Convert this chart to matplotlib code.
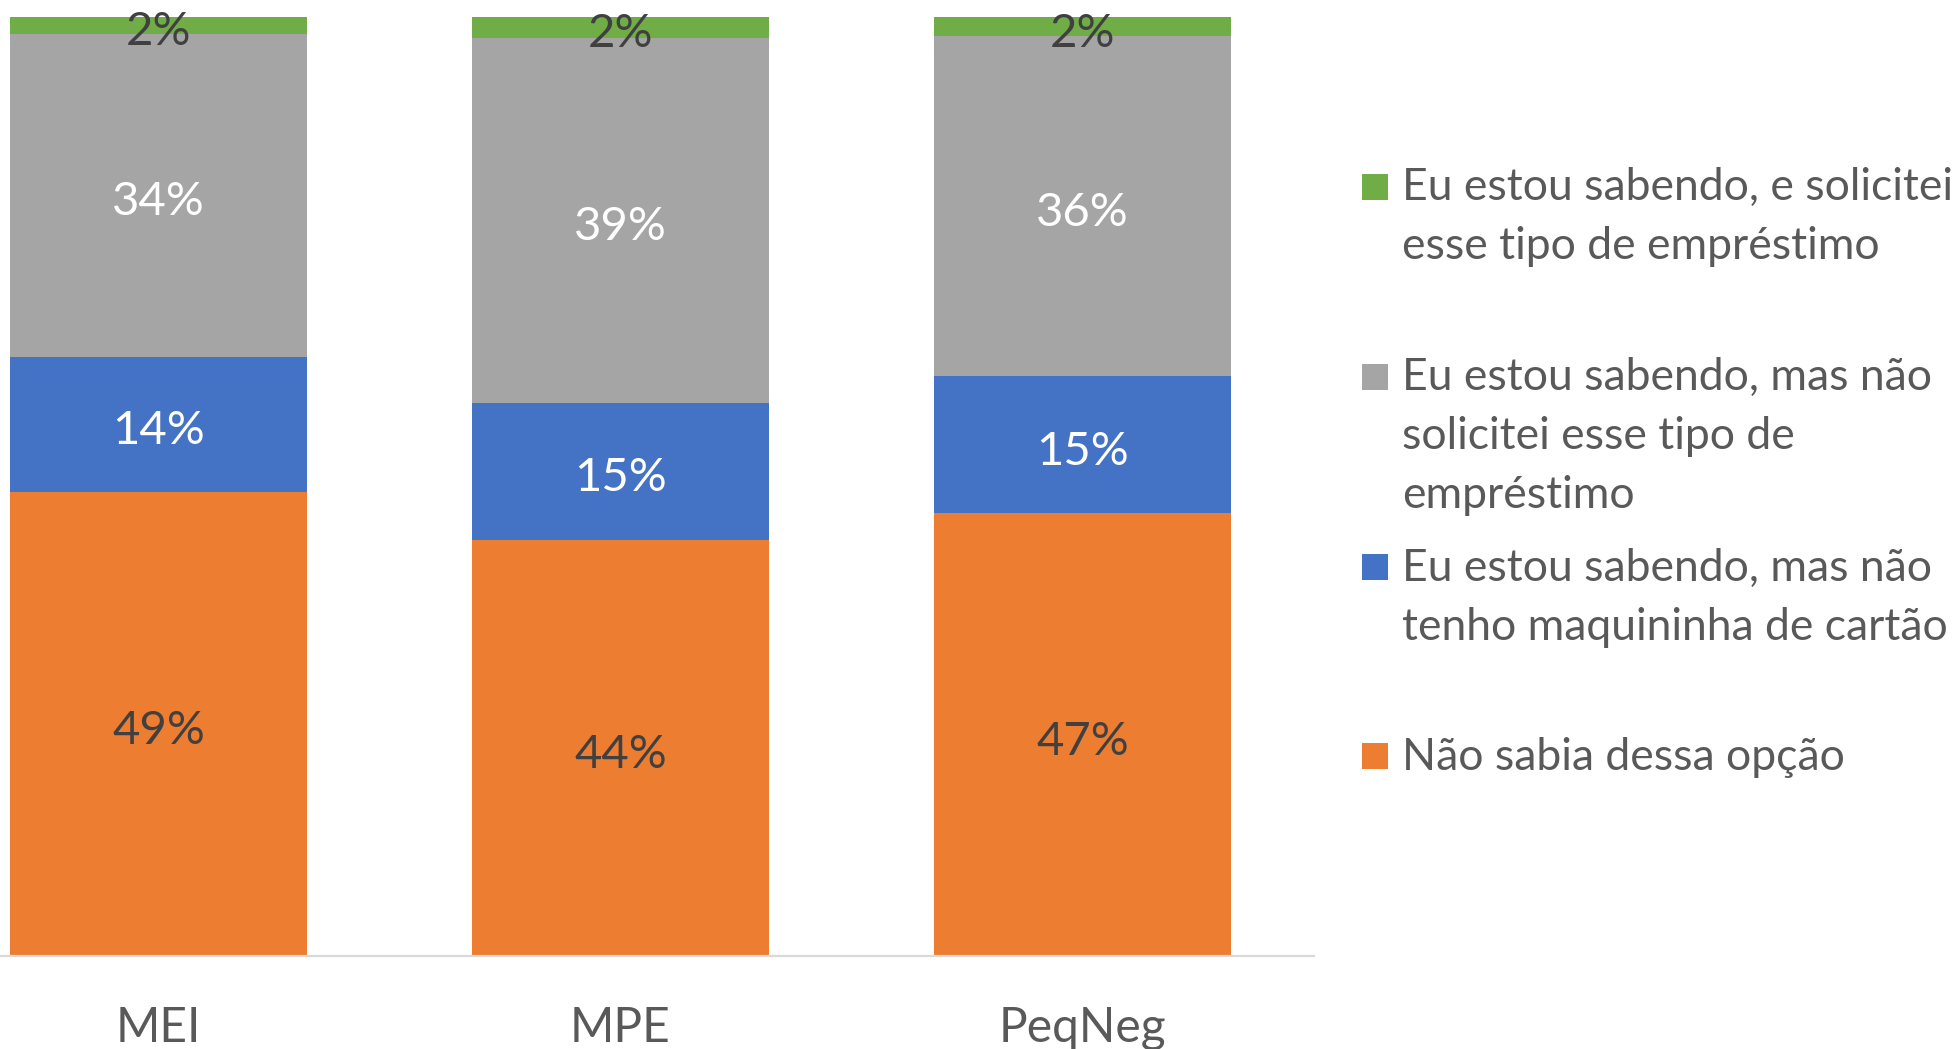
import matplotlib
matplotlib.use("Agg")
import matplotlib.pyplot as plt
from matplotlib.patches import Rectangle
from matplotlib.transforms import ScaledTranslation

categories = ["MEI", "MPE", "PeqNeg"]
nao_sabia = [49.4, 44.3, 47.1]
sem_maquininha = [14.4, 14.6, 14.6]
nao_solicitei = [34.4, 38.8, 36.2]
solicitei = [1.8, 2.3, 2.1]

series = [
    ("Não sabia dessa opção", nao_sabia, "#ED7D31", "#404040"),
    ("Eu estou sabendo, mas não\ntenho maquininha de cartão", sem_maquininha, "#4472C4", "white"),
    ("Eu estou sabendo, mas não\nsolicitei esse tipo de\nempréstimo", nao_solicitei, "#A5A5A5", "white"),
    ("Eu estou sabendo, e solicitei\nesse tipo de empréstimo", solicitei, "#70AD47", "#404040"),
]

plt.rcParams['font.family'] = ['Lato', 'DejaVu Sans']

W, H = 1959, 1049
fig = plt.figure(figsize=(W / 100, H / 100), dpi=100)
ax_left, ax_right = 0 / W, 1314 / W
ax_bottom, ax_top = (H - 955.7) / H, (H - 16.7) / H
ax = fig.add_axes([ax_left, ax_bottom, ax_right - ax_left, ax_top - ax_bottom])

x = list(range(len(categories)))
width = 0.643
bottoms = [0.0] * len(categories)
down = ax.transData + ScaledTranslation(0, -7 / 100, fig.dpi_scale_trans)
for name, vals, color, tcolor in series:
    ax.bar(x, vals, width=width, bottom=bottoms, color=color, edgecolor="none")
    for i, v in enumerate(vals):
        ax.text(x[i], bottoms[i] + v / 2, f"{round(v)}%", ha="center", va="center",
                fontsize=34, color=tcolor, transform=down)
    bottoms = [b + v for b, v in zip(bottoms, vals)]

ax.set_xlim(-0.343, 2.501)
ax.set_ylim(0, 100)
for s in ["top", "right", "left"]:
    ax.spines[s].set_visible(False)
ax.spines["bottom"].set_color("#D9D9D9")
ax.spines["bottom"].set_linewidth(1.6)
ax.set_yticks([])
ax.set_xticks(x)
ax.set_xticklabels(categories, fontsize=34.5, color="#595959")
ax.tick_params(axis="x", length=0, pad=36)

# legend (manual, Excel-style: square aligned with first line)
leg_y = [186.5, 376.5, 567, 756]
leg_items = list(reversed(series))
sq = 26
line_h = 59
for (name, vals, color, tcolor), yc in zip(leg_items, leg_y):
    fig.patches.append(Rectangle((1362 / W, (H - yc - sq / 2) / H), sq / W, sq / H,
                                 transform=fig.transFigure, facecolor=color, edgecolor="none"))
    for k, line in enumerate(name.split("\n")):
        base = yc + 13.5 + k * line_h
        fig.text(1402 / W, (H - base) / H, line, ha="left", va="baseline", fontsize=32,
                 color="#595959")

fig.savefig("out.png", dpi=100)
